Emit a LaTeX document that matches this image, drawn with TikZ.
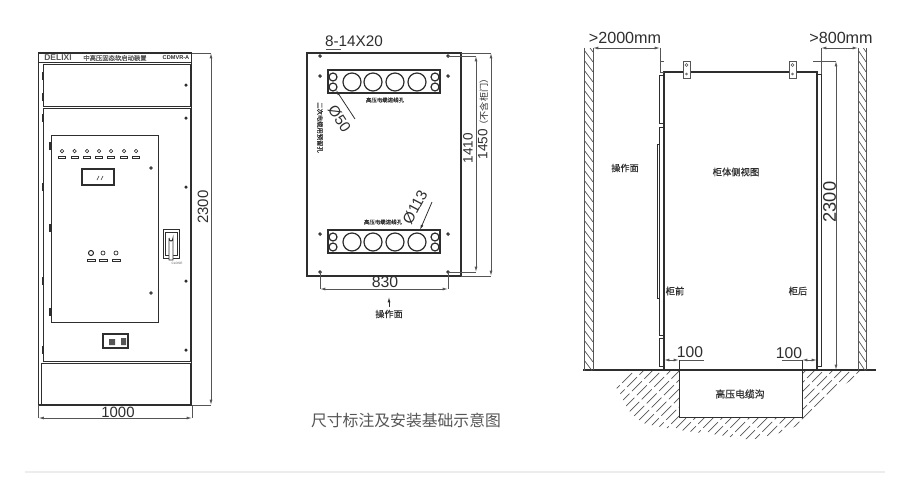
\documentclass[tikz,border=0pt]{standalone}
\usepackage{fontspec}
\setmainfont{Liberation Sans}
\newfontfamily\cjk{Noto Sans CJK SC}
\newfontfamily\cjkb[FakeBold=0.35]{Noto Sans CJK SC}
\definecolor{ink}{HTML}{2E2E2E}
\definecolor{dimc}{HTML}{555555}
\definecolor{rulec}{HTML}{EDEDED}
\usetikzlibrary{arrows.meta}
\usetikzlibrary{calc}
\begin{document}
\begin{tikzpicture}[x=0.2mm,y=-0.2mm,
	part/.style={draw=ink,line width=0.55pt},
	thick part/.style={draw=ink,line width=0.9pt},
	dimln/.style={draw=dimc,line width=0.45pt,{Latex[length=3pt,width=1.6pt]}-{Latex[length=3pt,width=1.6pt]}},
	extln/.style={draw=dimc,line width=0.4pt},
	hatchln/.style={draw=dimc,line width=0.4pt},
	dimtxt/.style={inner sep=0pt,text=ink,font=\fontsize{#1}{#1}\selectfont},
	cntxt/.style={inner sep=0pt,text=ink,font=\cjkb\fontsize{#1}{#1}\selectfont}]
	\useasboundingbox (0,0) rectangle (909,484);
	%front view
	\draw[thick part] (38.5,53) rectangle (191.5,405);
	\draw[part] (38.5,62) -- (191.5,62);
	\draw[part] (43.5,64) rectangle (190,106);
	\draw[part] (43.5,108) rectangle (190,361);
	\draw[part] (41,363) rectangle (190,405);
	\draw[part] (51,135) rectangle (158,322);
	\node[dimtxt=4.8,font=\bfseries\fontsize{4.8}{5}\selectfont,text=dimc] (logo) at (58,58) {DELIXI};
	\node[cntxt=3.6,text=dimc] (titlefront) at (115,58) {中高压固态软启动装置};
	\node[dimtxt=3.2,font=\bfseries\fontsize{3.2}{4}\selectfont] (model) at (176,58) {CDMVR-A};
	\foreach \i in {62,74.5,87,99,111,124,136} {
		\draw[part,line width=0.4pt] (\i,151) circle (0.35mm);
		\draw[part,line width=0.4pt] (\i-3.5,156) rectangle (\i+3.5,158);
	}
	\draw[thick part] (82,169) rectangle (114,185);
	\draw[part,line width=0.35pt] (97,180) -- (99,176) (101,180) -- (103,176);
	\foreach \i in {85,118,187,281,350}
		\fill[ink] (186,\i) circle (0.35mm);
	\foreach \i in {76,97,118,187,281,350}
		\fill[ink] (41.5,\i-4) rectangle (43,\i+4);
	\foreach \i in {146,228,312}
		\fill[ink] (49,\i-4) rectangle (51,\i+4);
	\foreach \i in {168,293}
		\draw[part] (151,\i) circle (0.25mm);
	\foreach \i in {103,116} {
		\draw[part,line width=0.4pt] (\i,253) circle (0.4mm);
	}
	\draw[thick part,line width=0.6pt] (91,253) circle (0.5mm);
	\foreach \i in {91,103,116}
		\draw[part,line width=0.4pt] (\i-4,259) rectangle (\i+4,261);
	%handle
	\draw[part] (163,229) rectangle (179,258);
	\draw[part] (165,232) rectangle (177,255);
	\draw[part,fill=white] (169,238) -- (169,260) -- (173,260) -- (173,238) arc[start angle=0,end angle=-180,x radius=2,y radius=-3];
	\node[dimtxt=1.8,text=dimc] (handletag) at (177,263) {CLOSE};
	%name plate
	\draw[ink,line width=1.1pt] (103,334) rectangle (128,348);
	\fill[dimc] (109,339) rectangle (115,345) (121,338) rectangle (126,345);
	%front view dimensions
	\coordinate (fronttop) at (211,53);
	\coordinate (frontbot) at (211,405);
	\coordinate (frontL) at (38.5,418);
	\coordinate (frontR) at (192,418);
	\draw[dimln] (fronttop) -- (frontbot);
	\draw[dimln] (frontL) -- (frontR);
	\draw[extln] (191.5,53) -- (fronttop);
	\draw[extln] (191.5,405) -- (frontbot);
	\draw[extln] (38.5,405) -- (frontL);
	\draw[extln] (192,405) -- (frontR);
	\node[dimtxt=8.5,rotate=90] (fronth) at (203,207) {2300};
	\node[dimtxt=8.5] (frontw) at (118,412) {1000};
	%base plate
	\draw[thick part] (307,53) rectangle (461,276);
	\foreach \i in {56,76,234,272} {
		\draw[part,line width=0.6pt] (320,\i) circle (0.25mm);
		\draw[part,line width=0.6pt] (448,\i) circle (0.25mm);
	}
	\foreach \i/\j in {70/82,230/242} {
		\draw[thick part] (328,\i) rectangle (440,\i+23);
		\foreach \k in {352,373,395,417}
			\draw[part,line width=0.7pt] (\k,\j) circle (1.8mm);
		\foreach \k in {333,435} {
			\draw[part,line width=0.7pt] (\k,\j-5) circle (0.8mm);
			\draw[part,line width=0.7pt] (\k,\j+5) circle (0.8mm);
		}
	}
	\node[cntxt=3.1] (holetop) at (385,100) {高压电缆进线孔};
	\node[cntxt=3.1] (holebot) at (383,222) {高压电缆进线孔};
	\node[cntxt=3.6,rotate=-90] (holeside) at (320,127.5) {二次电缆用预留孔};
	\node[dimtxt=8.7] (slot) at (354,41) {8-14X20};
	\coordinate (slotA) at (326,49);
	\coordinate (slotB) at (341,49);
	\draw[extln] (slotA) -- (slotB);
	\coordinate (phiA) at (336,90);
	\coordinate (phiB) at (355,119);
	\draw[draw=ink,line width=0.45pt,-{Latex[length=3pt,width=1.6pt]}] (phiB) -- (phiA);
	\node[dimtxt=8.6,rotate=-57] (phifty) at (339.5,119) {Ø50};
	\coordinate (phiC) at (432,202);
	\coordinate (phiD) at (420,230);
	\draw[draw=ink,line width=0.45pt,-{Latex[length=3pt,width=1.6pt]}] (phiC) -- (phiD);
	\node[dimtxt=8.6,rotate=62] (phimax) at (415,207) {Ø113};
	\coordinate (plateL) at (320,289);
	\coordinate (plateR) at (448,289);
	\draw[dimln] (plateL) -- (plateR);
	\draw[extln] (320,272) -- (plateL);
	\draw[extln] (448,272) -- (plateR);
	\node[dimtxt=9] (platew) at (385,282) {830};
	\coordinate (holetopR) at (476,56);
	\coordinate (holebotR) at (476,272);
	\coordinate (platetopR) at (491,53);
	\coordinate (platebotR) at (491,276);
	\draw[dimln] (holetopR) -- (holebotR);
	\draw[dimln] (platetopR) -- (platebotR);
	\draw[extln] (448,56) -- (holetopR);
	\draw[extln] (448,272) -- (holebotR);
	\draw[extln] (461,53) -- (platetopR);
	\draw[extln] (461,276) -- (platebotR);
	\node[dimtxt=7.7,rotate=90] (holeh) at (468,148) {1410};
	\node[dimtxt=7.7,rotate=90] (plateh) at (483,117) {1450{\cjk\fontsize{5.2}{6}\selectfont （不含柜门）}};
	\node[cntxt=5.2] (sidemid) at (389,314) {操作面};
	\coordinate (upA) at (389,307);
	\coordinate (upB) at (389,297);
	\draw[draw=ink,line width=0.45pt,-{Latex[length=3pt,width=1.6pt]}] (upA) -- (upB);
	\node[dimtxt=9,font=\cjk\fontsize{9}{9}\selectfont,text=dimc] (caption) at (406,420) {尺寸标注及安装基础示意图};
	%ground and trench
	\begin{scope}
		\clip (583,370) .. controls (600,373) and (612,380) .. (620,393) .. controls (625,405) and (632,418) .. (643,423) .. controls (660,428) and (700,433) .. (720,435) .. controls (735,438) and (745,440) .. (753,439) .. controls (770,438) and (795,428) .. (807,420) .. controls (818,408) and (825,400) .. (830,395) .. controls (840,385) and (855,380) .. (866,370) -- cycle;
		\foreach \i [count=\ii from 0] in {560,569,...,860}
			\draw[hatchln,dash pattern=on 8pt off 2pt,dash phase=\ii*3.3pt] (\i,445) -- (\i+80,365);
		\fill[white] (679,370) rectangle (802,417);
	\end{scope}
	\draw[part] (679,370) -- (679,417) -- (802,417) -- (802,370);
	\coordinate (floorA) at (583,370);
	\coordinate (floorB) at (876,370);
	\draw[thick part,line width=0.7pt] (floorA) -- (floorB);
	%walls
	\foreach \i/\j in {584/593,858/866} {
		\begin{scope}
			\clip (\i,48) rectangle (\j,370);
			\foreach \k in {30,40,...,370}
				\draw[hatchln] (\i,\k) -- (\j,\k+12);
		\end{scope}
		\draw[part,draw=dimc] (\i,48) -- (\i,370) (\j,48) -- (\j,370);
	}
	%side view
	\draw[thick part,line width=0.7pt] (664,370) -- (664,72) -- (817,72) -- (817,370);
	\foreach \i in {683,789} {
		\draw[part,draw=dimc,fill=white] (\i,61) rectangle (\i+7,78);
		\draw[part,draw=dimc,line width=0.35pt] (\i+3.5,65) circle (0.3mm);
		\draw[part,draw=dimc,line width=0.35pt] (\i+3.5,74) circle (0.2mm);
	}
	\draw[part] (659,75) rectangle (664,123);
	\draw[part] (659,127) rectangle (664,335);
	\draw[part] (659,338) rectangle (664,366);
	\draw[part] (657,144) rectangle (659,298);
	\draw[part] (817,74) -- (821,74) -- (821,366) -- (817,366);
	\coordinate (spaceFL) at (593,48);
	\coordinate (spaceFR) at (660,48);
	\coordinate (spaceBL) at (821,48);
	\coordinate (spaceBR) at (858,48);
	\draw[dimln] (spaceFL) -- (spaceFR);
	\draw[dimln] (spaceBL) -- (spaceBR);
	\draw[extln] (spaceFR) -- (660,72) -- (664,72);
	\draw[extln] (660,61) -- (664,61);
	\draw[extln] (spaceBL) -- (821,74);
	\node[dimtxt=9.2] (spacefront) at (625,38) {>2000mm};
	\node[dimtxt=9.2] (spaceback) at (841,38) {>800mm};
	\coordinate (sidetop) at (836,61);
	\coordinate (sidebot) at (836,370);
	\draw[dimln] (sidetop) -- (sidebot);
	\draw[extln] (813,61) -- (sidetop);
	\node[dimtxt=10.4,rotate=90] (sideh) at (829.5,202) {2300};
	\node[cntxt=5.2] (opside) at (625,168) {操作面};
	\node[cntxt=5.3] (sideview) at (736,172) {柜体侧视图};
	\node[cntxt=5.3] (frontside) at (675,291) {柜前};
	\node[cntxt=5.3] (backside) at (798,291) {柜后};
	\node[cntxt=5.6] (trench) at (740,394) {高压电缆沟};
	\node[dimtxt=8.9] (gapleft) at (690,352) {100};
	\node[dimtxt=8.9] (gapright) at (789,353) {100};
	\coordinate (gapLa) at (664,360);
	\coordinate (gapLb) at (679,360);
	\coordinate (gapRa) at (802,360);
	\coordinate (gapRb) at (817,360);
	\draw[dimln] (gapLa) -- (gapLb);
	\draw[dimln] (gapRa) -- (gapRb);
	\draw[extln] (gapLb) -- (704,360);
	\draw[extln] (gapRa) -- (782,360);
	\draw[part] (gapLb) -- (679,370);
	\draw[part] (gapRa) -- (802,370);
	%bottom rule
	\coordinate (ruleA) at (25,472);
	\coordinate (ruleB) at (885,472);
	\draw[rulec,line width=0.6pt] (ruleA) -- (ruleB);
\end{tikzpicture}
\end{document}
